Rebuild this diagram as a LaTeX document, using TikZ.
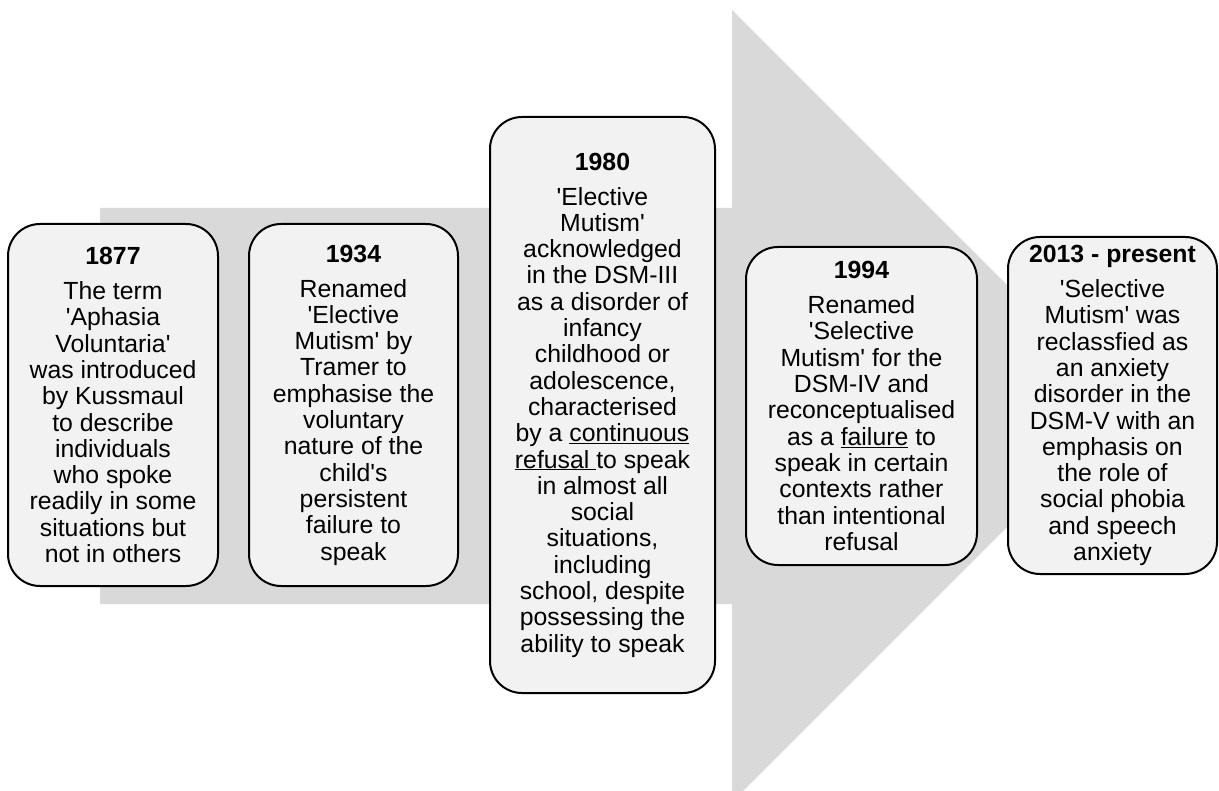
\documentclass[tikz,border=0pt]{standalone}
\usepackage{fontspec}
\setmainfont{Liberation Sans}
\definecolor{arrowgrey}{HTML}{D9D9D9}
\definecolor{boxfill}{HTML}{F2F2F2}
% straight apostrophe
\newcommand\sq{\textquotesingle}

\begin{document}
\begin{tikzpicture}[x=1pt,y=-1pt,
  stage/.style={draw=black, line width=2pt, fill=boxfill, rounded corners=32pt,
    align=center, inner sep=0pt, text=black,
    font=\fontsize{24.8}{26.3}\selectfont},
]
\useasboundingbox (0,0) rectangle (1219,791);

% broad timeline arrow in the background
\begin{scope}
  \clip (0,0) rectangle (1219,791);
  \fill[arrowgrey] (100,208) -- (732,208) -- (732,10) -- (1128,406)
    -- (732,802) -- (732,604) -- (100,604) -- cycle;
\end{scope}

\node[stage, minimum width=210, minimum height=362] (y1877) at (113,405) {%
  \textbf{1877}\\[8.7pt]
  The term\\ \sq Aphasia\\ Voluntaria\sq\\ was introduced\\ by Kussmaul\\
  to describe\\ individuals\\ who spoke\\ readily in some\\ situations but\\
  not in others};

\node[stage, minimum width=209, minimum height=362] (y1934) at (353.5,405) {%
  \textbf{1934}\\[8.7pt]
  Renamed\\ \sq Elective\\ Mutism\sq\ by\\ Tramer to\\ emphasise the\\
  voluntary\\ nature of the\\ child\sq s\\ persistent\\ failure to\\ speak};

\node[stage, minimum width=225, minimum height=576] (y1980) at (602.5,405) {%
  \textbf{1980}\\[8.7pt]
  \sq Elective\\ Mutism\sq\\ acknowledged\\ in the DSM-III\\ as a disorder of\\
  infancy\\ childhood or\\ adolescence,\\ characterised\\
  by a \underline{continuous}\\ \underline{refusal\ }to speak\\
  in almost all\\ social\\ situations,\\ including\\ school, despite\\
  possessing the\\ ability to speak};

\node[stage, minimum width=231, minimum height=318] (y1994) at (861.5,406) {%
  \textbf{1994}\\[8.7pt]
  Renamed\\ \sq Selective\\ Mutism\sq\ for the\\ DSM-IV and\\ reconceptualised\\
  as a \underline{failure} to\\ speak in certain\\ contexts rather\\
  than intentional\\ refusal};

\node[stage, minimum width=209, minimum height=337] (y2013) at (1112.5,405.5) {%
  \textbf{2013 - present}\\[8.7pt]
  \sq Selective\\ Mutism\sq\ was\\ reclassfied as\\ an anxiety\\ disorder in the\\
  DSM-V with an\\ emphasis on\\ the role of\\ social phobia\\ and speech\\ anxiety};
\end{tikzpicture}
\end{document}
